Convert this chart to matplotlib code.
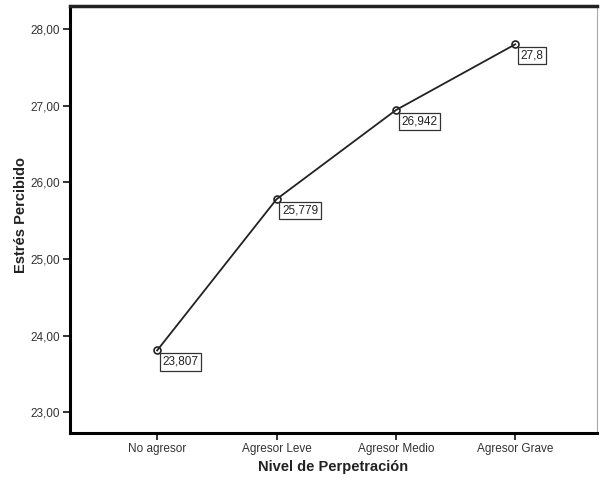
import matplotlib
matplotlib.use("Agg")
import matplotlib.pyplot as plt
from matplotlib.ticker import FuncFormatter

categories = ["No agresor", "Agresor Leve", "Agresor Medio", "Agresor Grave"]
values = [23.807, 25.779, 26.942, 27.8]
value_labels = ["23,807", "25,779", "26,942", "27,8"]
y_ticks = [23, 24, 25, 26, 27, 28]

plt.rcParams['font.family'] = ['Liberation Sans', 'DejaVu Sans']

fig = plt.figure(figsize=(6, 4.8), dpi=100)
ax = fig.add_axes([70 / 600, 1 - 433 / 480, 527 / 600, 427 / 480])

x = list(range(len(categories)))
ax.plot(x, values, color='#222222', lw=1.3, marker='o', markersize=5,
        markerfacecolor='none', markeredgecolor='#222222', markeredgewidth=1.2)

for xi, v, lab in zip(x, values, value_labels):
    ax.annotate(lab, (xi, v), xytext=(4, -4), textcoords='offset points',
                ha='left', va='top', fontsize=8.5, color='#222222',
                bbox=dict(boxstyle='square,pad=0.22', fc='white', ec='#333333', lw=0.9))

ax.set_xlim(-0.73, 3.685)
ax.set_ylim(22.73, 28.3)
ax.set_xticks(x)
ax.set_xticklabels(categories)
ax.set_yticks(y_ticks)
ax.yaxis.set_major_formatter(FuncFormatter(lambda v, p: f"{v:.2f}".replace('.', ',')))

ax.tick_params(axis='both', direction='out', length=5, width=1.3, labelsize=8.5,
               labelcolor='#333333', color='#222222', pad=2)

for side in ['left', 'bottom']:
    ax.spines[side].set_linewidth(2.2)
    ax.spines[side].set_color('black')
ax.spines['top'].set_linewidth(2.5)
ax.spines['top'].set_color('#222222')
ax.spines['right'].set_linewidth(0.8)
ax.spines['right'].set_color('#aaaaaa')

ax.set_ylabel("Estrés Percibido", fontsize=10.5, fontweight='bold', color='#222222')
ax.set_xlabel("Nivel de Perpetración", fontsize=10.5, fontweight='bold', color='#222222')
ax.yaxis.set_label_coords(-0.079, 0.51)
ax.xaxis.set_label_coords(0.5, -0.063)

fig.savefig("out.png", dpi=100)
